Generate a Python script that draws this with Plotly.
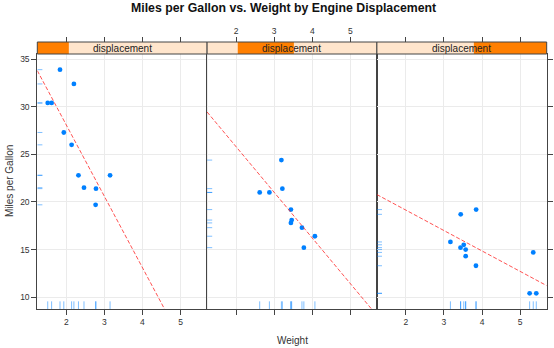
import plotly.graph_objects as go
import numpy as np

W, H = 554, 348

# ---- data (mtcars: weight [1000 lbs] vs mpg, split by displacement shingle) ----
x_lim = [1.239, 5.698]
y_lim = [8.755, 35.545]
wt_ticks = [2, 3, 4, 5]
mpg_ticks = [10, 15, 20, 25, 30, 35]
disp_range = [71.1, 472.0]
disp_levels = [[71.1, 145.5], [143.5, 276.0], [300.0, 472.0]]
strip_label = "displacement"

wt1 = [1.835, 2.2, 1.615, 1.513, 1.935, 2.14, 2.32, 3.15, 2.465, 2.78, 2.77]
mpg1 = [33.9, 32.4, 30.4, 30.4, 27.3, 26.0, 22.8, 22.8, 21.5, 21.4, 19.7]
wt2 = [2.62, 2.875, 3.215, 3.46, 3.19, 3.44, 3.44, 4.07, 3.73, 3.78]
mpg2 = [21.0, 21.0, 21.4, 18.1, 24.4, 19.2, 17.8, 16.4, 17.3, 15.2]
wt3 = [3.44, 3.57, 5.25, 5.424, 5.345, 3.52, 3.435, 3.84, 3.845, 3.17, 3.57]
mpg3 = [18.7, 14.3, 10.4, 10.4, 14.7, 15.5, 15.2, 13.3, 19.2, 15.8, 15.0]

panels = [(wt1, mpg1), (wt2, mpg2), (wt3, mpg3)]

# ---- layout geometry (pixels) ----
panel_left = [37.3, 207.1, 376.9]
panel_w = 169.8
plot_top, plot_bot = 54, 309
strip_top = 42

def px(v):
    return v / W

def py(v):
    return 1 - v / H

PT_COL = "#0080ff"
RUG_COL = "rgba(0,128,255,0.5)"
GRID = "#ebebeb"
LINE = "#444444"
TXT = "#333333"
rug_len = 0.03

fig = go.Figure()
layout = {}
shapes = []
annotations = []

for i, (wx, my) in enumerate(panels):
    k = i + 1
    xa = "x" if k == 1 else f"x{k}"
    ya = "y" if k == 1 else f"y{k}"
    xtop = f"x{k+3}"     # top tick axis (also used by bottom rug)
    yrug = f"y{k+3}"     # npc y axis for bottom rug
    xrug = f"x{k+6}"     # npc x axis for left rug

    # points
    fig.add_trace(go.Scatter(x=wx, y=my, mode="markers", xaxis=xa, yaxis=ya,
                             marker=dict(color=PT_COL, size=4.8), showlegend=False,
                             hoverinfo="skip"))
    # regression line (dashed red)
    b, a = np.polyfit(np.array(wx), np.array(my), 1)
    xs = np.array(x_lim)
    fig.add_trace(go.Scatter(x=xs, y=a + b * xs, mode="lines", xaxis=xa, yaxis=ya,
                             line=dict(color="rgba(255,40,40,0.8)", width=1, dash="4px,2px"),
                             showlegend=False, hoverinfo="skip"))
    # bottom rug
    rx, ry = [], []
    for v in wx:
        rx += [v, v, None]
        ry += [0, rug_len, None]
    fig.add_trace(go.Scatter(x=rx, y=ry, mode="lines", xaxis=xtop, yaxis=yrug,
                             line=dict(color=RUG_COL, width=1), showlegend=False,
                             hoverinfo="skip"))
    # left rug
    lx, ly = [], []
    for v in my:
        lx += [0, rug_len, None]
        ly += [v, v, None]
    fig.add_trace(go.Scatter(x=lx, y=ly, mode="lines", xaxis=xrug, yaxis=ya,
                             line=dict(color=RUG_COL, width=1), showlegend=False,
                             hoverinfo="skip"))

    dom = [px(panel_left[i]), px(panel_left[i] + panel_w)]
    ydom = [py(plot_bot), py(plot_top)]
    xkey = "xaxis" if k == 1 else f"xaxis{k}"
    ykey = "yaxis" if k == 1 else f"yaxis{k}"
    layout[xkey] = dict(domain=dom, range=x_lim, anchor=ya, tickvals=wt_ticks,
                        showgrid=True, gridcolor=GRID, gridwidth=1, zeroline=False,
                        showline=True, linecolor=LINE, linewidth=1, mirror=True,
                        ticks="outside", ticklen=5, tickcolor=LINE,
                        showticklabels=(k != 2),
                        tickfont=dict(size=8.5, color=TXT, family="Liberation Sans, Arial"))
    ydict = dict(domain=ydom, range=y_lim, anchor=xa, tickvals=mpg_ticks,
                 showgrid=True, gridcolor=GRID, gridwidth=1, zeroline=False,
                 showline=True, linecolor=LINE, linewidth=1, mirror=True,
                 tickcolor=LINE, ticklen=5,
                 tickfont=dict(size=8.5, color=TXT, family="Liberation Sans, Arial"))
    if k == 1:
        ydict.update(ticks="outside", showticklabels=True)
    elif k == 2:
        ydict.update(ticks="", showticklabels=False)
    else:
        ydict.update(ticks="outside", showticklabels=False, side="right")
    layout[ykey] = ydict

    layout[f"xaxis{k+3}"] = dict(overlaying=xa, range=x_lim, side="top", anchor="free",
                                 position=py(strip_top), tickvals=wt_ticks,
                                 ticks="outside", ticklen=5, tickcolor=LINE,
                                 showgrid=False, zeroline=False, showline=False,
                                 showticklabels=(k == 2),
                                 tickfont=dict(size=8.5, color=TXT, family="Liberation Sans, Arial"))
    layout[f"yaxis{k+3}"] = dict(overlaying=ya, range=[0, 1], visible=False, anchor=xtop)
    layout[f"xaxis{k+6}"] = dict(overlaying=xa, range=[0, 1], visible=False, anchor=ya)

    # strip
    x0 = px(panel_left[i]); x1 = px(panel_left[i] + panel_w)
    y0 = py(plot_top); y1 = py(strip_top)
    shapes.append(dict(type="rect", xref="paper", yref="paper", x0=x0, x1=x1, y0=y0, y1=y1,
                       fillcolor="#ffe5cc", line=dict(width=0), layer="above"))
    lo, hi = disp_levels[i]
    f0 = (lo - disp_range[0]) / (disp_range[1] - disp_range[0])
    f1 = (hi - disp_range[0]) / (disp_range[1] - disp_range[0])
    shapes.append(dict(type="rect", xref="paper", yref="paper",
                       x0=px(panel_left[i] + f0 * panel_w), x1=px(panel_left[i] + f1 * panel_w),
                       y0=y0, y1=y1, fillcolor="#ff7f00", line=dict(width=0), layer="above"))
    shapes.append(dict(type="rect", xref="paper", yref="paper", x0=x0, x1=x1, y0=y0, y1=y1,
                       fillcolor="rgba(0,0,0,0)", line=dict(color=LINE, width=1), layer="above"))
    annotations.append(dict(text=strip_label, xref="paper", yref="paper",
                            x=(x0 + x1) / 2, y=(y0 + y1) / 2, showarrow=False,
                            xanchor="center", yanchor="middle",
                            font=dict(size=10, color="#222222", family="Liberation Sans, Arial")))

annotations.append(dict(text="<b>Miles per Gallon vs. Weight by Engine Displacement</b>",
                        xref="paper", yref="paper", x=px(283), y=py(8), showarrow=False,
                        xanchor="center", yanchor="middle",
                        font=dict(size=12.3, color="#111111", family="Liberation Sans, Arial")))
annotations.append(dict(text="Weight", xref="paper", yref="paper", x=px(292), y=py(340),
                        showarrow=False, xanchor="center", yanchor="middle",
                        font=dict(size=10, color=TXT, family="Liberation Sans, Arial")))
annotations.append(dict(text="Miles per Gallon", xref="paper", yref="paper", x=px(10),
                        y=py(181), showarrow=False, textangle=-90, xanchor="center",
                        yanchor="middle",
                        font=dict(size=10, color=TXT, family="Liberation Sans, Arial")))

fig.update_layout(width=W, height=H, margin=dict(l=0, r=0, t=0, b=0),
                  paper_bgcolor="white", plot_bgcolor="white",
                  showlegend=False, shapes=shapes, annotations=annotations, **layout)

fig.write_html("out.html")
